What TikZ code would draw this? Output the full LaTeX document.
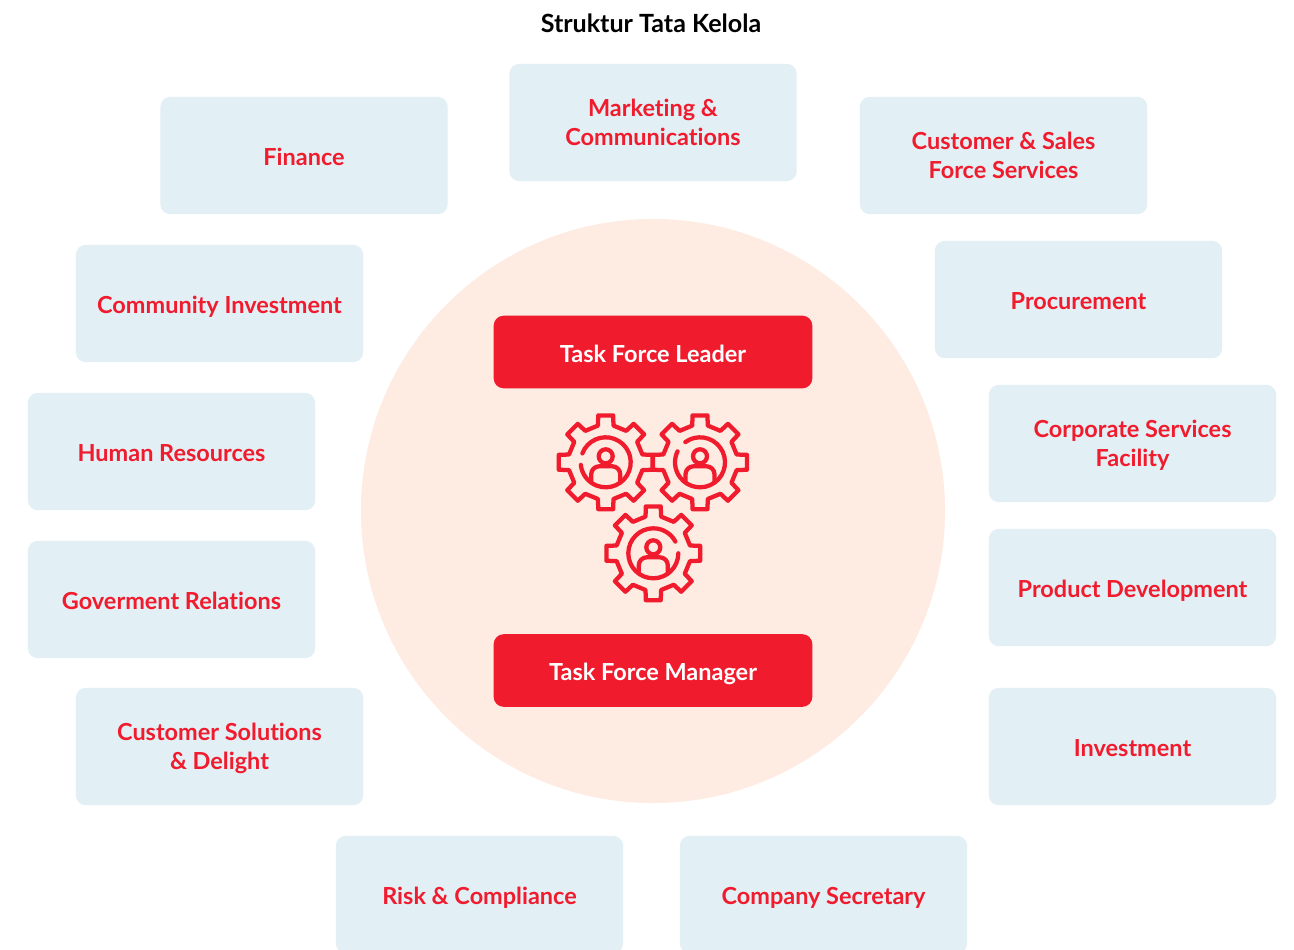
\documentclass[tikz,border=0pt]{standalone}
\usepackage{fontspec}
\setmainfont{Lato}[Ligatures=NoCommon]
\usepackage{tikz}
\definecolor{boxblue}{HTML}{E2EFF5}
\definecolor{circlepeach}{HTML}{FEEBE2}
\definecolor{taskred}{HTML}{F01C2E}
\tikzset{
    unitbox/.style={fill=boxblue,rounded corners=7.5pt,minimum width=215.5pt,minimum height=88pt,
        inner sep=0pt,align=center,text=taskred,font=\fontsize{17.6}{21.7}\selectfont\bfseries,
        text depth=3pt,execute at begin node={\rule{0pt}{18.3pt}}},
    twolines/.style={text depth=-9pt},
    leadbox/.style={fill=taskred,rounded corners=7.5pt,minimum width=239pt,minimum height=54.5pt,
        inner sep=0pt,align=center,text=white,font=\fontsize{17.6}{21.7}\selectfont\bfseries,
        text depth=3pt,execute at begin node={\rule{0pt}{18.3pt}}},
    gearline/.style={draw=taskred,line width=3.2pt,line join=round,line cap=round}
}
% one gear with a person in it: x, y, start and end of the ring
\newcommand{\gearicon}[4]{
    \begin{scope}[shift={(#1,#2)}]
        \draw[gearline] (-12:37.5) \foreach \a in {0,45,...,315} {
            -- (\a-12:37.5) -- (\a-9:47.5) -- (\a+9:47.5) -- (\a+12:37.5)} -- cycle;
        \draw[gearline] (#3:25) arc (#3:#4:25);
        \draw[gearline] (0,-6) circle (7);
        \draw[gearline] (-14.5,20) -- (-14.5,12) arc (180:270:8) -- (6.5,4) arc (270:360:8) -- (14.5,20);
    \end{scope}
}

\begin{document}
\begin{tikzpicture}[x=0.75pt,y=-0.75pt]
    \clip (0,0) rectangle (1294,949);
    \fill[white] (0,0) rectangle (1294,949);
    \fill[circlepeach] (653,511) circle (292);

    \node[font=\fontsize{18.8}{22}\selectfont\bfseries] (title) at (651,23) {Struktur Tata Kelola};

    \node[unitbox] (finance) at (304,155.5) {Finance};
    \node[unitbox,twolines] (marketing) at (653,122.5) {Marketing \&\\Communications};
    \node[unitbox,twolines] (customer) at (1003.5,155.5) {Customer \& Sales\\Force Services};
    \node[unitbox] (community) at (219.5,303.5) {Community Investment};
    \node[unitbox] (procurement) at (1078.5,299.5) {Procurement};
    \node[unitbox] (human) at (171.5,451.5) {Human Resources};
    \node[unitbox] (goverment) at (171.5,599.5) {Goverment Relations};
    \node[unitbox,twolines] (corporate) at (1132.5,443.5) {Corporate Services\\Facility};
    \node[unitbox] (product) at (1132.5,587.5) {Product Development};
    \node[unitbox,twolines] (solutions) at (219.5,746.5) {Customer Solutions\\\& Delight};
    \node[unitbox] (investment) at (1132.5,746.5) {Investment};
    \node[unitbox] (risk) at (479.5,894.5) {Risk \& Compliance};
    \node[unitbox] (secretary) at (823.5,894.5) {Company Secretary};

    \node[leadbox] (leader) at (653,352) {Task Force Leader};
    \node[leadbox] (manager) at (653,670.5) {Task Force Manager};

    \gearicon{605.7}{462.3}{201}{534}
    \gearicon{700}{462.3}{234}{566}
    \gearicon{653.3}{553.3}{0}{332}
\end{tikzpicture}
\end{document}
